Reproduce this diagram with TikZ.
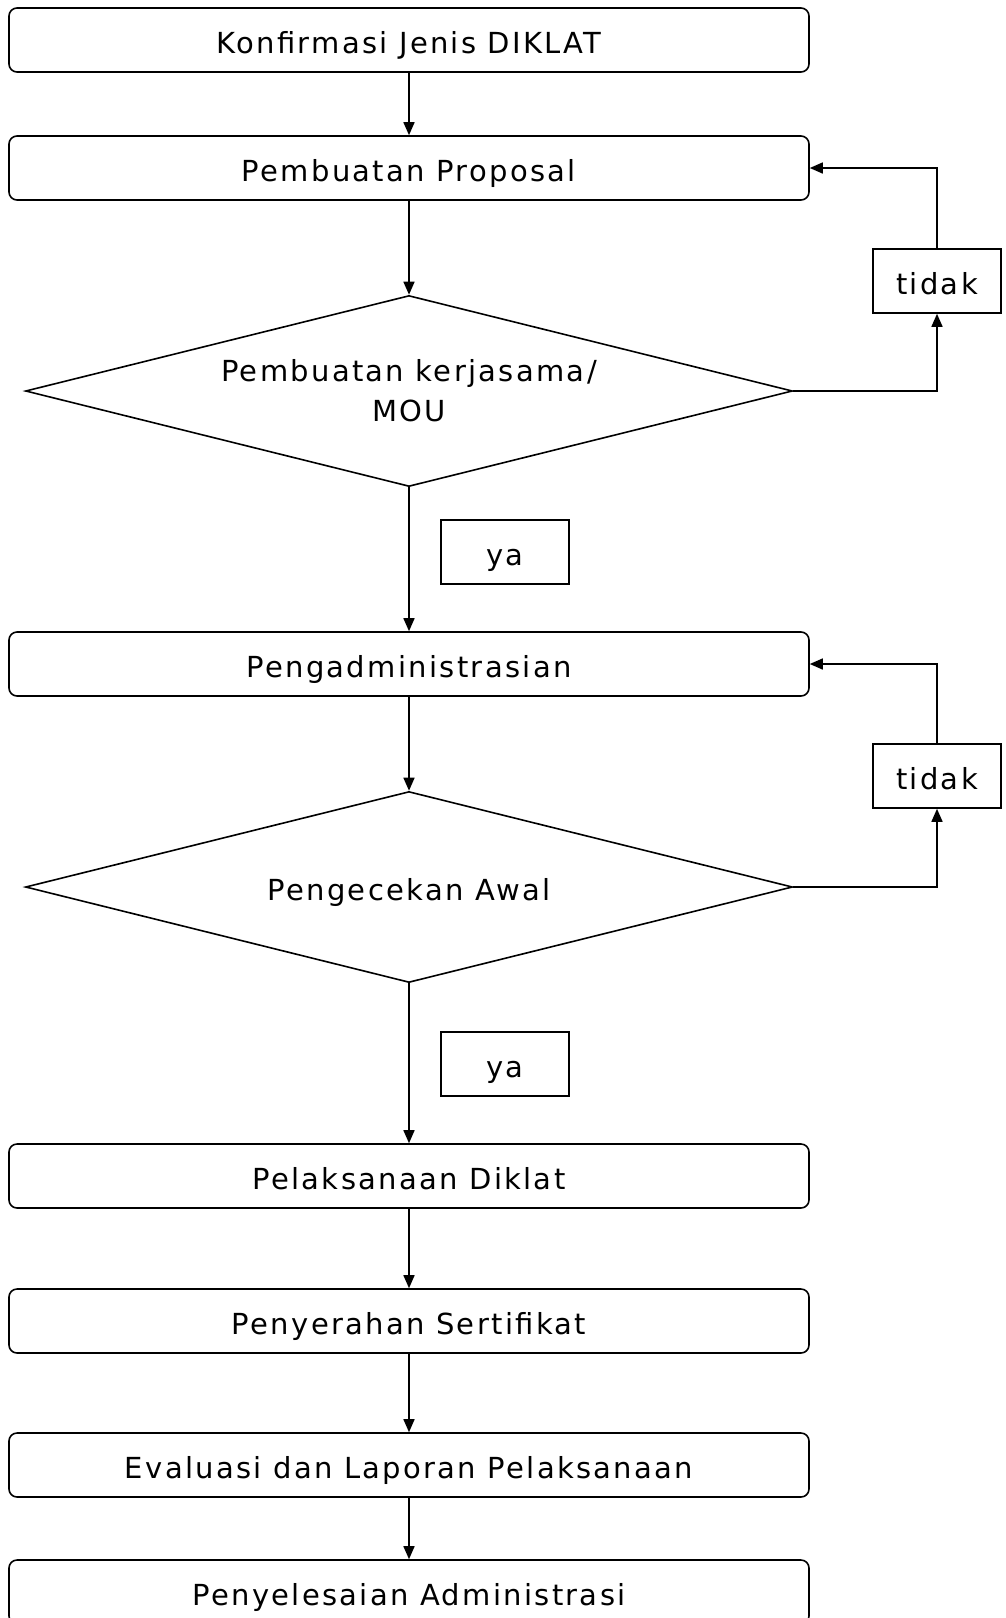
\documentclass[tikz,border=0pt]{standalone}
\usepackage{fontspec}
\setmainfont{DejaVu Sans}[LetterSpace=8]
\usetikzlibrary{arrows.meta,shapes.geometric}
\begin{document}
\begin{tikzpicture}[x=1pt,y=-1pt,
  every node/.style={font=\fontsize{29}{40}\selectfont, inner sep=0pt, text height=26pt, text depth=0pt},
  proc/.style={draw, line width=1.6pt, rounded corners=8pt, minimum width=800pt, minimum height=64pt, align=center},
  lab/.style={draw, line width=1.6pt, minimum width=128pt, minimum height=64pt},
  dec/.style={draw, line width=1.6pt, diamond, minimum width=767pt, minimum height=191pt, align=center, aspect=4},
  arr/.style={line width=1.6pt, -{Triangle[length=13pt,width=11pt]}}]
\useasboundingbox (0,0) rectangle (1005,1618);
\node[proc] (k) at (409,40) {Konfirmasi Jenis DIKLAT};
\node[proc] (p) at (409,168) {Pembuatan Proposal};
\node[dec, text height={}, text depth={}] (d1) at (409,391) {Pembuatan kerjasama/\\MOU};
\node[lab] (y1) at (505,552) {ya};
\node[lab] (t1) at (937,281) {tidak};
\node[proc] (a) at (409,664) {Pengadministrasian};
\node[dec] (d2) at (409,887) {Pengecekan Awal};
\node[lab] (y2) at (505,1064) {ya};
\node[lab] (t2) at (937,776) {tidak};
\node[proc] (l) at (409,1176) {Pelaksanaan Diklat};
\node[proc] (s) at (409,1321) {Penyerahan Sertifikat};
\node[proc] (e) at (409,1465) {Evaluasi dan Laporan Pelaksanaan};
\node[proc] (f) at (409,1592) {Penyelesaian Administrasi};
\draw[arr] (k) -- (p);
\draw[arr] (p) -- (d1);
\draw[arr] (d1) -- (a);
\draw[arr] (d1.east) -| (t1);
\draw[arr] (t1) |- (p.east);
\draw[arr] (a) -- (d2);
\draw[arr] (d2) -- (l);
\draw[arr] (d2.east) -| (t2);
\draw[arr] (t2) |- (a.east);
\draw[arr] (l) -- (s);
\draw[arr] (s) -- (e);
\draw[arr] (e) -- (f);
\end{tikzpicture}
\end{document}
